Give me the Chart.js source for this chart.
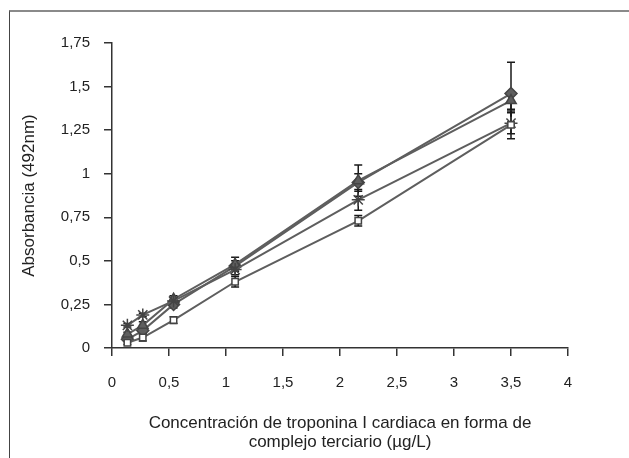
<!DOCTYPE html>
<html>
<head>
<meta charset="utf-8">
<title>Absorbancia vs troponina I</title>
<style>
  html, body { margin: 0; padding: 0; background: #fff; }
  #wrap { position: relative; width: 629px; height: 458px; overflow: hidden; }
  #frame { position: absolute; left: 9px; top: 10px; right: 0; bottom: 0;
           border-top: 2px solid #8a8a8a; border-left: 1px solid #444; }
  canvas { position: absolute; left: 0; top: 0; }
</style>
</head>
<body>
<div id="wrap">
  <div id="frame"></div>
  <canvas id="chart" width="629" height="458"></canvas>
</div>

<script src="https://cdn.jsdelivr.net/npm/chart.js@4/dist/chart.umd.min.js"></script>
<script>
// concentraciones (µg/L)
const concentracion = [0.135, 0.27, 0.54, 1.08, 2.16, 3.5];

// absorbancias
const serieRombo     = [0.05, 0.10, 0.25, 0.47, 0.95, 1.46];
const serieTriangulo = [0.08, 0.13, 0.28, 0.48, 0.96, 1.42];
const serieEstrella  = [0.13, 0.19, 0.27, 0.45, 0.85, 1.29];
const serieCuadrado  = [0.03, 0.06, 0.16, 0.38, 0.73, 1.28];

// barras de error (+/-)
const errRombo     = [0.01, 0.02, 0.02, 0.03, 0.05, 0.18];
const errTriangulo = [0.01, 0.02, 0.02, 0.04, 0.09, 0.05];
const errEstrella  = [0.01, 0.01, 0.02, 0.03, 0.06, 0.06];
const errCuadrado  = [0.01, 0.02, 0.02, 0.03, 0.03, 0.08];

const ticksX = [0, 0.5, 1, 1.5, 2, 2.5, 3, 3.5, 4];
const ticksY = [0, 0.25, 0.5, 0.75, 1, 1.25, 1.5, 1.75];

const gris = '#5e5e5e';
const coma = v => String(v).replace('.', ',');

function serie(valores, errores, estilo, radio, relleno) {
  return {
    data: valores.map((v, i) => ({ x: concentracion[i], y: v })),
    errores: errores,
    showLine: true,
    tension: 0,
    borderColor: gris,
    borderWidth: 2,
    pointStyle: estilo,
    pointRadius: radio,
    pointBackgroundColor: relleno,
    pointBorderColor: '#444',
    pointBorderWidth: 1.5
  };
}

// barras de error con las escalas del grafico (debajo de las series)
const barrasError = {
  id: 'barrasError',
  beforeDatasetsDraw(chart) {
    const { ctx, scales: { x, y } } = chart;
    ctx.save();
    ctx.strokeStyle = '#1a1a1a';
    ctx.lineWidth = 1.5;
    chart.data.datasets.forEach(ds => {
      ds.errores.forEach((e, i) => {
        const px = x.getPixelForValue(ds.data[i].x);
        const yArriba = y.getPixelForValue(ds.data[i].y + e);
        const yAbajo = y.getPixelForValue(ds.data[i].y - e);
        ctx.beginPath();
        ctx.moveTo(px, yArriba); ctx.lineTo(px, yAbajo);
        ctx.moveTo(px - 4, yArriba); ctx.lineTo(px + 4, yArriba);
        ctx.moveTo(px - 4, yAbajo); ctx.lineTo(px + 4, yAbajo);
        ctx.stroke();
      });
    });
    ctx.restore();
  }
};

const fuente = { family: '"Liberation Sans", Arial, sans-serif', size: 15 };
const fuenteTitulo = { family: '"Liberation Sans", Arial, sans-serif', size: 17, lineHeight: 1.08 };

new Chart(document.getElementById('chart'), {
  type: 'scatter',
  data: {
    datasets: [
      serie(serieCuadrado, errCuadrado, 'rect', 4.5, '#ffffff'),
      serie(serieEstrella, errEstrella, 'star', 6.5, gris),
      serie(serieTriangulo, errTriangulo, 'triangle', 6, gris),
      serie(serieRombo, errRombo, 'rectRot', 6, gris)
    ]
  },
  options: {
    responsive: false,
    animation: false,
    layout: { padding: { left: 10, right: 61, top: 43, bottom: 0 } },
    plugins: { legend: { display: false }, tooltip: { enabled: false } },
    scales: {
      x: {
        type: 'linear',
        min: 0, max: 4,
        afterFit: s => { s.height = 110; },
        afterBuildTicks: s => { s.ticks = ticksX.map(v => ({ value: v })); },
        ticks: { callback: coma, color: '#222', font: fuente, padding: 18, maxRotation: 0 },
        grid: { drawOnChartArea: false, drawTicks: true, tickLength: 8, color: '#333', lineWidth: 1.5 },
        border: { color: '#333', width: 1.5 },
        title: {
          display: true,
          text: ['Concentración de troponina I cardiaca en forma de', 'complejo terciario (µg/L)'],
          color: '#222', font: fuenteTitulo, padding: { top: 0, bottom: 7 }
        }
      },
      y: {
        min: 0, max: 1.75,
        afterFit: s => { s.width = 102; },
        afterBuildTicks: s => { s.ticks = ticksY.map(v => ({ value: v })); },
        ticks: { callback: coma, color: '#222', font: fuente, padding: 14 },
        grid: { drawOnChartArea: false, drawTicks: true, tickLength: 8, color: '#333', lineWidth: 1.5 },
        border: { color: '#333', width: 1.5 },
        title: {
          display: true,
          text: 'Absorbancia (492nm)',
          color: '#222', font: fuenteTitulo, padding: { top: 10, bottom: 0 }
        }
      }
    }
  },
  plugins: [barrasError]
});
</script>
</body>
</html>
